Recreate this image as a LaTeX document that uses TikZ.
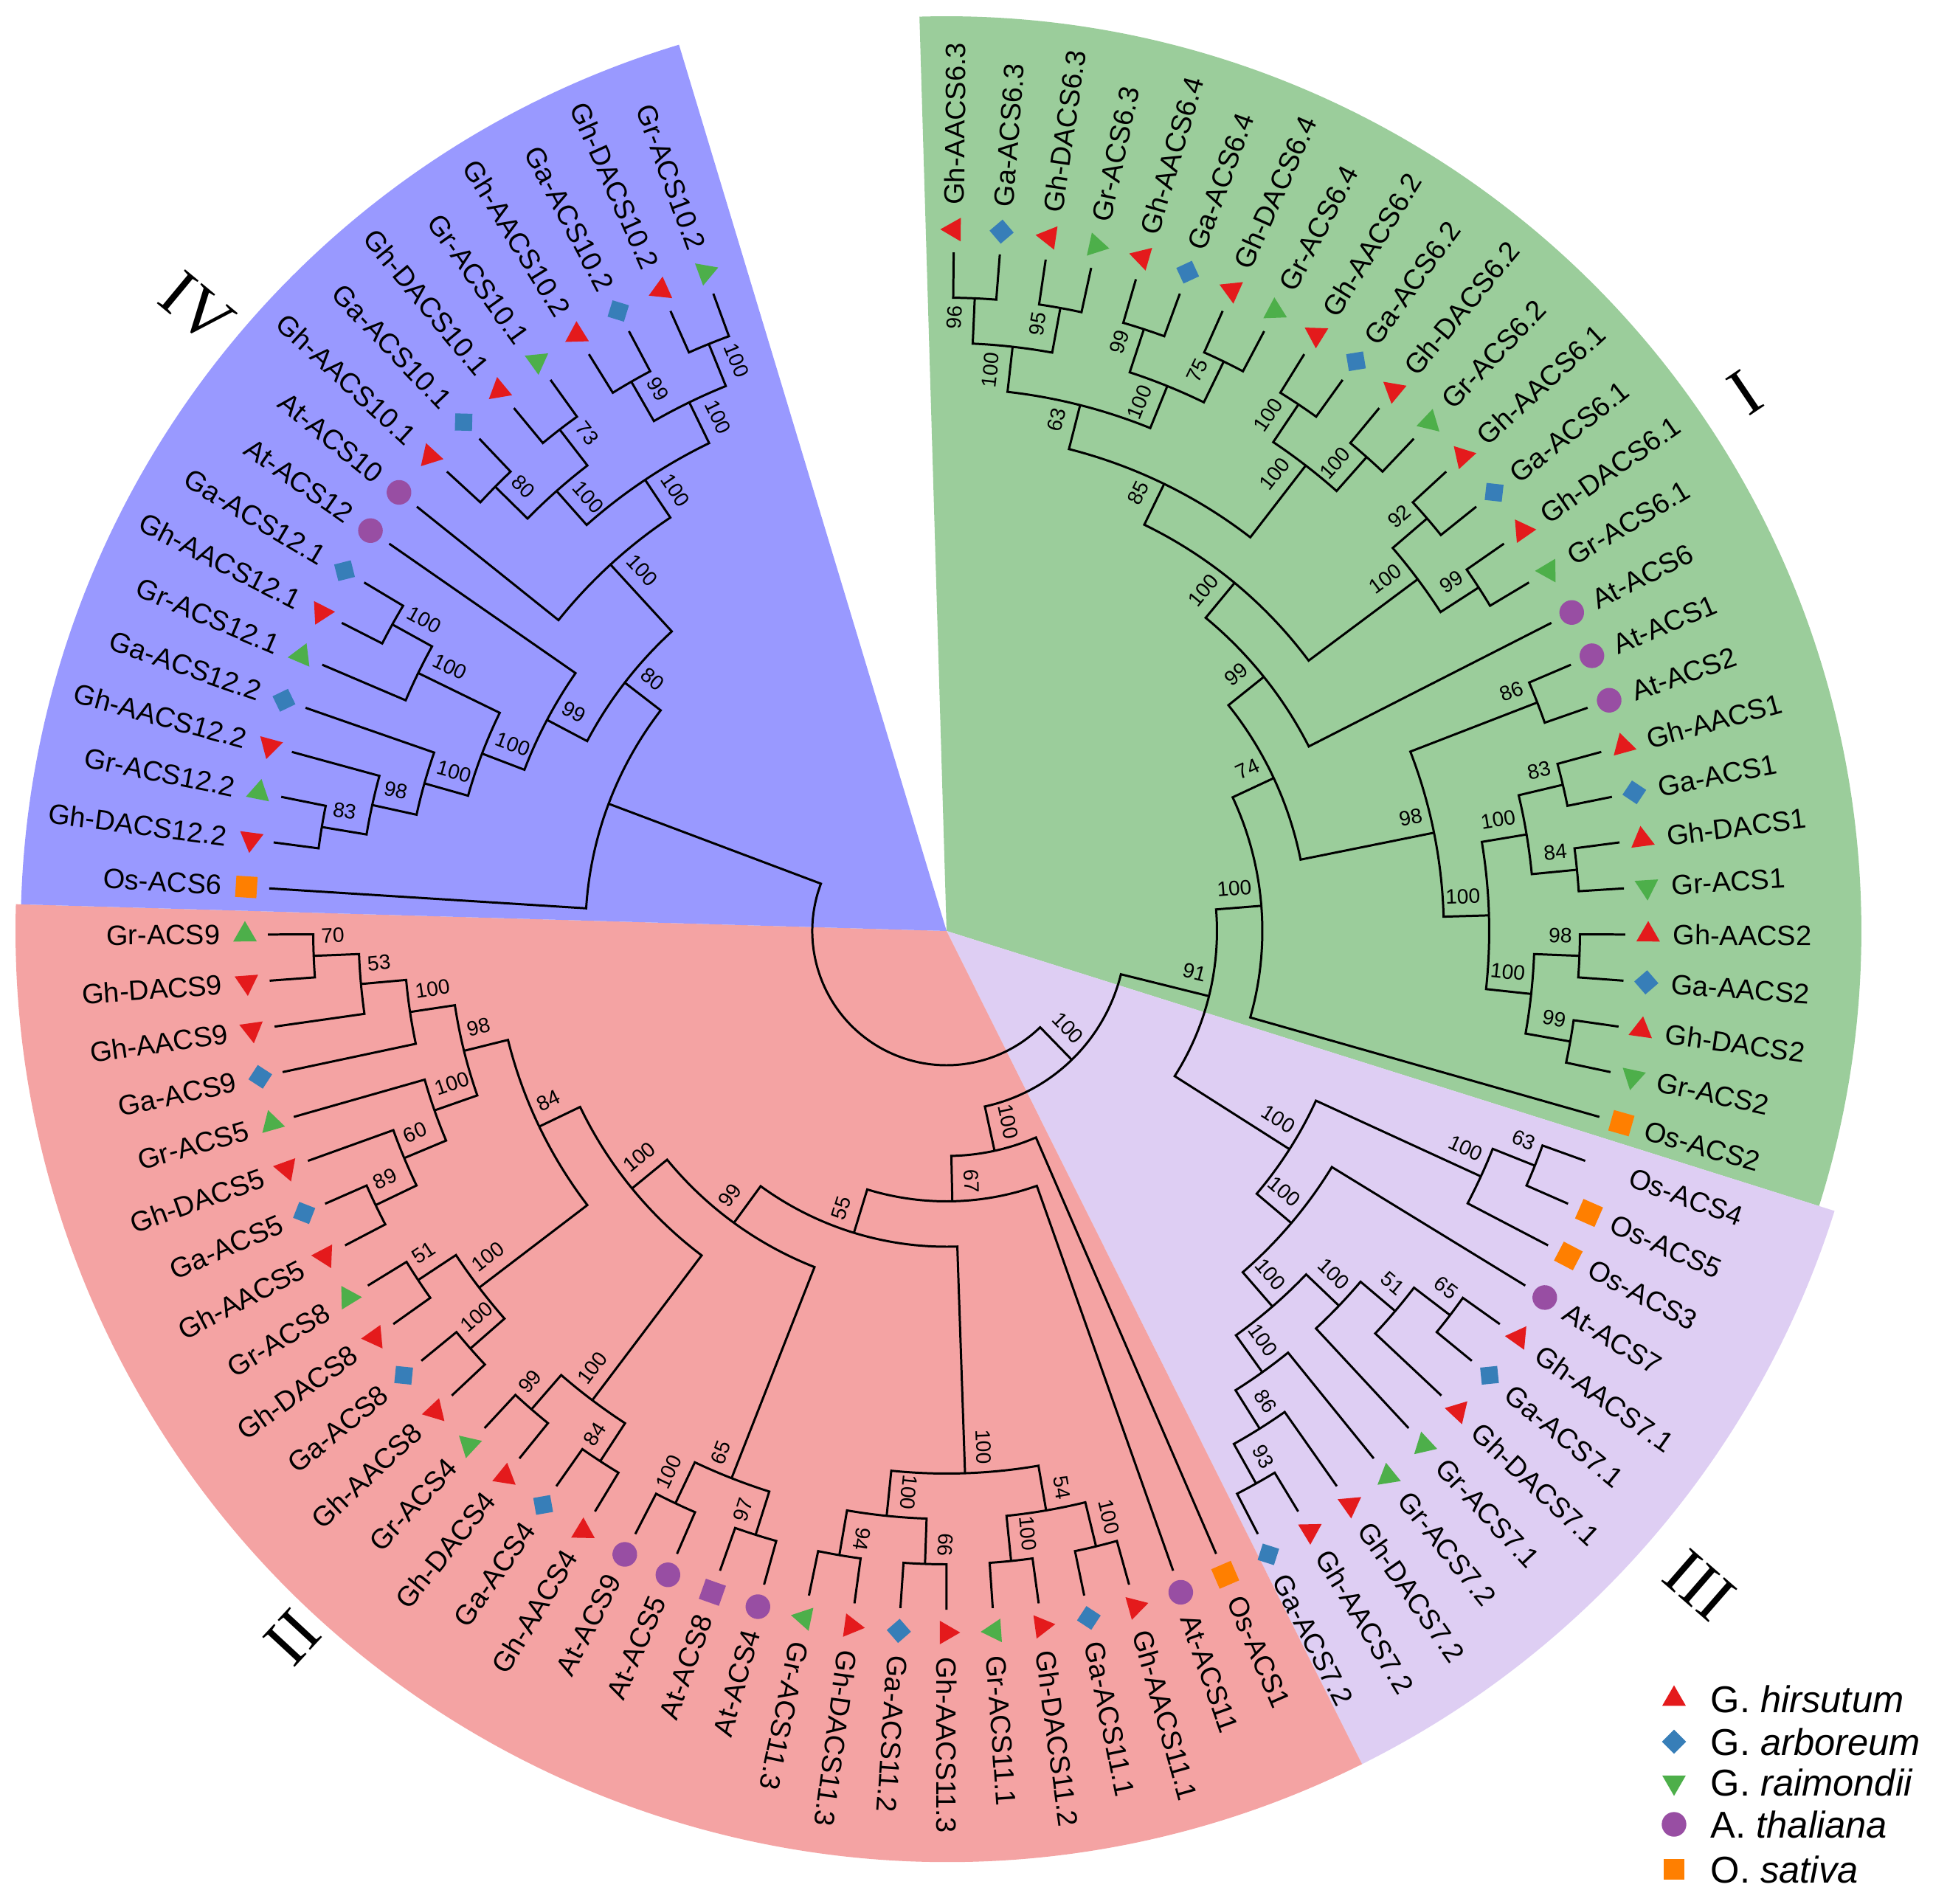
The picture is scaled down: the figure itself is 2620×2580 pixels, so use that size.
\documentclass[tikz,border=0pt]{standalone}
\usepackage{fontspec}
\setmainfont{Liberation Sans}
\newfontfamily\romfont{Liberation Serif}
\usepackage{tikz}
\usetikzlibrary{shapes.geometric}

\definecolor{hirC}{RGB}{228,26,28}
\definecolor{arbC}{RGB}{55,126,184}
\definecolor{raiC}{RGB}{77,175,74}
\definecolor{thaC}{RGB}{152,78,163}
\definecolor{satC}{RGB}{255,127,0}
\definecolor{bgI}{RGB}{155,205,155}
\definecolor{bgII}{RGB}{244,163,163}
\definecolor{bgIII}{RGB}{222,206,243}
\definecolor{bgIV}{RGB}{153,153,255}

% leaf: index, name, marker
\newcommand\leaf[3]{%
  \pgfmathsetmacro\angL{89.4-3.9*(#1-1)}%
  \expandafter\xdef\csname angg#1\endcsname{\angL}%
  \expandafter\xdef\csname hgtg#1\endcsname{0}%
  \coordinate (ng#1) at (\angL:920);%
  \node[#3, rotate=\angL] (m#1) at (\angL:951) {};%
  \pgfmathtruncatemacro\flipL{(\angL<-104) ? 1 : 0}%
  \ifnum\flipL=1
    \node[leaflbl, rotate=\angL+180, anchor=east] (l#1) at (\angL:984) {#2};%
  \else
    \node[leaflbl, rotate=\angL, anchor=west] (l#1) at (\angL:984) {#2};%
  \fi}

% clade: key, child, child, support
\newcommand\clade[4]{%
  \pgfmathsetmacro\angA{\csname ang#2\endcsname}%
  \pgfmathsetmacro\angB{\csname ang#3\endcsname}%
  \pgfmathsetmacro\angM{(\angA+\angB)/2}%
  \pgfmathtruncatemacro\htN{max(\csname hgt#2\endcsname,\csname hgt#3\endcsname)+1}%
  \pgfmathsetmacro\radN{920-61.5*\htN}%
  \expandafter\xdef\csname ang#1\endcsname{\angM}%
  \expandafter\xdef\csname hgt#1\endcsname{\htN}%
  \coordinate (n#1) at (\angM:\radN);%
  \draw[branch] (n#2) -- (\angA:\radN) arc[start angle=\angA, end angle=\angB, radius=\radN] -- (n#3);%
  \if\relax\detokenize{#4}\relax\else
    \pgfmathtruncatemacro\flipN{(\angM<-104) ? 1 : 0}%
    \ifnum\flipN=1
      \node[boot, rotate=\angM+180, anchor=south west] (b#1) at (n#1) {#4};%
    \else
      \node[boot, rotate=\angM, anchor=south east] (b#1) at (n#1) {#4};%
    \fi
  \fi}

\begin{document}
\begin{tikzpicture}[x=0.01cm, y=0.01cm,
  branch/.style={line width=0.85pt},
  leaflbl/.style={inner sep=0pt, font=\fontsize{10.8}{12}\selectfont},
  boot/.style={inner xsep=3pt, inner ysep=4.5pt, font=\fontsize{8}{9}\selectfont},
  roman/.style={inner sep=0pt, font=\romfont\fontsize{26}{28}\selectfont},
  legtxt/.style={inner sep=0pt, font=\fontsize{14.4}{16}\selectfont},
  mkhir/.style={regular polygon, regular polygon sides=3, fill=hirC, inner sep=0pt, minimum size=10.5pt},
  mkrai/.style={regular polygon, regular polygon sides=3, shape border rotate=180, fill=raiC, inner sep=0pt, minimum size=10.5pt},
  mkarb/.style={diamond, fill=arbC, inner sep=0pt, minimum width=9.5pt, minimum height=9.5pt},
  mktha/.style={circle, fill=thaC, inner sep=0pt, minimum size=9.5pt},
  mkthq/.style={rectangle, fill=thaC, inner sep=0pt, minimum size=8.2pt},
  mksat/.style={rectangle, fill=satC, inner sep=0pt, minimum size=8.2pt},
  mknone/.style={inner sep=0pt, minimum size=0pt}]
	\useasboundingbox (-1283,-1318) rectangle (1337,1262);
	\fill[white] (-1283,-1318) rectangle (1337,1262);
	% Clade Sectors %
	\fill[bgI] (0,0) -- (91.7:1240) arc[start angle=91.7, end angle=-17.5, radius=1240] -- cycle;
	\fill[bgIII] (0,0) -- (-17.5:1262) arc[start angle=-17.5, end angle=-63.5, radius=1262] -- cycle;
	\fill[bgII] (0,0) -- (-63.5:1262) arc[start angle=-63.5, end angle=-181.65, radius=1262] -- cycle;
	\fill[bgIV] (0,0) -- (-181.65:1255) arc[start angle=-181.65, end angle=-253.2, radius=1255] -- cycle;
	% Roman Numerals %
	\node[roman, rotate=34] (cI) at (34:1306) {I};
	\node[roman, rotate=47.2] (cII) at (-132.8:1305) {II};
	\node[roman, rotate=-41] (cIII) at (-41:1352) {III};
	\node[roman, rotate=-39.7] (cIV) at (140.3:1321) {IV};
	% Leaves %
	\leaf{1}{Gh-AACS6.3}{mkhir}
	\leaf{2}{Ga-ACS6.3}{mkarb}
	\leaf{3}{Gh-DACS6.3}{mkhir}
	\leaf{4}{Gr-ACS6.3}{mkrai}
	\leaf{5}{Gh-AACS6.4}{mkhir}
	\leaf{6}{Ga-ACS6.4}{mkarb}
	\leaf{7}{Gh-DACS6.4}{mkhir}
	\leaf{8}{Gr-ACS6.4}{mkrai}
	\leaf{9}{Gh-AACS6.2}{mkhir}
	\leaf{10}{Ga-ACS6.2}{mkarb}
	\leaf{11}{Gh-DACS6.2}{mkhir}
	\leaf{12}{Gr-ACS6.2}{mkrai}
	\leaf{13}{Gh-AACS6.1}{mkhir}
	\leaf{14}{Ga-ACS6.1}{mkarb}
	\leaf{15}{Gh-DACS6.1}{mkhir}
	\leaf{16}{Gr-ACS6.1}{mkrai}
	\leaf{17}{At-ACS6}{mktha}
	\leaf{18}{At-ACS1}{mktha}
	\leaf{19}{At-ACS2}{mktha}
	\leaf{20}{Gh-AACS1}{mkhir}
	\leaf{21}{Ga-ACS1}{mkarb}
	\leaf{22}{Gh-DACS1}{mkhir}
	\leaf{23}{Gr-ACS1}{mkrai}
	\leaf{24}{Gh-AACS2}{mkhir}
	\leaf{25}{Ga-AACS2}{mkarb}
	\leaf{26}{Gh-DACS2}{mkhir}
	\leaf{27}{Gr-ACS2}{mkrai}
	\leaf{28}{Os-ACS2}{mksat}
	\leaf{29}{Os-ACS4}{mknone}
	\leaf{30}{Os-ACS5}{mksat}
	\leaf{31}{Os-ACS3}{mksat}
	\leaf{32}{At-ACS7}{mktha}
	\leaf{33}{Gh-AACS7.1}{mkhir}
	\leaf{34}{Ga-ACS7.1}{mkarb}
	\leaf{35}{Gh-DACS7.1}{mkhir}
	\leaf{36}{Gr-ACS7.1}{mkrai}
	\leaf{37}{Gr-ACS7.2}{mkrai}
	\leaf{38}{Gh-DACS7.2}{mkhir}
	\leaf{39}{Gh-AACS7.2}{mkhir}
	\leaf{40}{Ga-ACS7.2}{mkarb}
	\leaf{41}{Os-ACS1}{mksat}
	\leaf{42}{At-ACS11}{mktha}
	\leaf{43}{Gh-AACS11.1}{mkhir}
	\leaf{44}{Ga-ACS11.1}{mkarb}
	\leaf{45}{Gh-DACS11.2}{mkhir}
	\leaf{46}{Gr-ACS11.1}{mkrai}
	\leaf{47}{Gh-AACS11.3}{mkhir}
	\leaf{48}{Ga-ACS11.2}{mkarb}
	\leaf{49}{Gh-DACS11.3}{mkhir}
	\leaf{50}{Gr-ACS11.3}{mkrai}
	\leaf{51}{At-ACS4}{mktha}
	\leaf{52}{At-ACS8}{mkthq}
	\leaf{53}{At-ACS5}{mktha}
	\leaf{54}{At-ACS9}{mktha}
	\leaf{55}{Gh-AACS4}{mkhir}
	\leaf{56}{Ga-ACS4}{mkarb}
	\leaf{57}{Gh-DACS4}{mkhir}
	\leaf{58}{Gr-ACS4}{mkrai}
	\leaf{59}{Gh-AACS8}{mkhir}
	\leaf{60}{Ga-ACS8}{mkarb}
	\leaf{61}{Gh-DACS8}{mkhir}
	\leaf{62}{Gr-ACS8}{mkrai}
	\leaf{63}{Gh-AACS5}{mkhir}
	\leaf{64}{Ga-ACS5}{mkarb}
	\leaf{65}{Gh-DACS5}{mkhir}
	\leaf{66}{Gr-ACS5}{mkrai}
	\leaf{67}{Ga-ACS9}{mkarb}
	\leaf{68}{Gh-AACS9}{mkhir}
	\leaf{69}{Gh-DACS9}{mkhir}
	\leaf{70}{Gr-ACS9}{mkrai}
	\leaf{71}{Os-ACS6}{mksat}
	\leaf{72}{Gh-DACS12.2}{mkhir}
	\leaf{73}{Gr-ACS12.2}{mkrai}
	\leaf{74}{Gh-AACS12.2}{mkhir}
	\leaf{75}{Ga-ACS12.2}{mkarb}
	\leaf{76}{Gr-ACS12.1}{mkrai}
	\leaf{77}{Gh-AACS12.1}{mkhir}
	\leaf{78}{Ga-ACS12.1}{mkarb}
	\leaf{79}{At-ACS12}{mktha}
	\leaf{80}{At-ACS10}{mktha}
	\leaf{81}{Gh-AACS10.1}{mkhir}
	\leaf{82}{Ga-ACS10.1}{mkarb}
	\leaf{83}{Gh-DACS10.1}{mkhir}
	\leaf{84}{Gr-ACS10.1}{mkrai}
	\leaf{85}{Gh-AACS10.2}{mkhir}
	\leaf{86}{Ga-ACS10.2}{mkarb}
	\leaf{87}{Gh-DACS10.2}{mkhir}
	\leaf{88}{Gr-ACS10.2}{mkrai}
	% Clade I %
	\clade{p63a}{g1}{g2}{96}
	\clade{p63b}{g3}{g4}{95}
	\clade{G63}{p63a}{p63b}{100}
	\clade{p64a}{g5}{g6}{99}
	\clade{p64b}{g7}{g8}{75}
	\clade{G64}{p64a}{p64b}{100}
	\clade{GA}{G63}{G64}{63}
	\clade{p62a}{g9}{g10}{100}
	\clade{p62b}{g11}{g12}{100}
	\clade{G62}{p62a}{p62b}{100}
	\clade{GB}{GA}{G62}{85}
	\clade{p61a}{g13}{g14}{92}
	\clade{p61b}{g15}{g16}{99}
	\clade{G61}{p61a}{p61b}{100}
	\clade{GC}{GB}{G61}{100}
	\clade{GD}{GC}{g17}{99}
	\clade{GAt}{g18}{g19}{86}
	\clade{p1a}{g20}{g21}{83}
	\clade{p1b}{g22}{g23}{84}
	\clade{GE1}{p1a}{p1b}{100}
	\clade{p2a}{g24}{g25}{98}
	\clade{p2b}{g26}{g27}{99}
	\clade{GE2}{p2a}{p2b}{100}
	\clade{GE}{GE1}{GE2}{100}
	\clade{GF}{GAt}{GE}{98}
	\clade{GG}{GD}{GF}{74}
	\clade{Groot}{GG}{g28}{100}
	% Clade III %
	\clade{P63}{g29}{g30}{63}
	\clade{POs}{P63}{g31}{100}
	\clade{P65}{g33}{g34}{65}
	\clade{P51}{P65}{g35}{51}
	\clade{P71}{P51}{g36}{100}
	\clade{P93}{g39}{g40}{93}
	\clade{P86}{g38}{P93}{86}
	\clade{P72}{g37}{P86}{100}
	\clade{P7}{P71}{P72}{100}
	\clade{PAt}{g32}{P7}{100}
	\clade{Proot}{POs}{PAt}{100}
	\clade{N91}{Groot}{Proot}{91}
	% Clade II %
	\clade{r11a1}{g43}{g44}{100}
	\clade{r11a2}{g45}{g46}{100}
	\clade{R11a}{r11a1}{r11a2}{54}
	\clade{r11b1}{g47}{g48}{66}
	\clade{r11b2}{g49}{g50}{94}
	\clade{R11b}{r11b1}{r11b2}{100}
	\clade{R11}{R11a}{R11b}{100}
	\clade{rAt1}{g51}{g52}{97}
	\clade{rAt2}{g53}{g54}{100}
	\clade{RAt}{rAt1}{rAt2}{65}
	\clade{r4a}{g55}{g56}{84}
	\clade{r4b}{g57}{g58}{99}
	\clade{R4}{r4a}{r4b}{100}
	\clade{r8a}{g59}{g60}{100}
	\clade{r8b}{g61}{g62}{51}
	\clade{R8}{r8a}{r8b}{100}
	\clade{r5a}{g63}{g64}{89}
	\clade{r5b}{g65}{r5a}{60}
	\clade{R5}{g66}{r5b}{100}
	\clade{r9a}{g69}{g70}{70}
	\clade{r9b}{g68}{r9a}{53}
	\clade{R9}{g67}{r9b}{100}
	\clade{R95}{R5}{R9}{98}
	\clade{R958}{R8}{R95}{84}
	\clade{Rc}{R4}{R958}{100}
	\clade{R99}{RAt}{Rc}{99}
	\clade{R55}{R11}{R99}{55}
	\clade{R67}{g42}{R55}{67}
	\clade{Rroot}{g41}{R67}{100}
	\clade{X}{N91}{Rroot}{100}
	% Clade IV %
	\clade{b102a}{g85}{g86}{99}
	\clade{b102b}{g87}{g88}{100}
	\clade{B102}{b102a}{b102b}{100}
	\clade{b101a}{g81}{g82}{80}
	\clade{b101b}{g83}{g84}{73}
	\clade{B101}{b101a}{b101b}{100}
	\clade{B10}{B101}{B102}{100}
	\clade{BAt10}{g80}{B10}{100}
	\clade{b121a}{g77}{g78}{100}
	\clade{B121}{g76}{b121a}{100}
	\clade{b122a}{g72}{g73}{83}
	\clade{b122b}{b122a}{g74}{98}
	\clade{B122}{b122b}{g75}{100}
	\clade{B12}{B122}{B121}{100}
	\clade{BAt12}{B12}{g79}{99}
	\clade{B80}{BAt12}{BAt10}{80}
	\clade{Broot}{g71}{B80}{}
	% Root %
	\clade{Root}{Broot}{X}{}
	% Legend %
	\node[mkhir] (k1) at (986,-1041) {};
	\node[legtxt, anchor=west] (kt1) at (1035,-1041) {G. \textit{hirsutum}};
	\node[mkarb] (k2) at (986,-1099) {};
	\node[legtxt, anchor=west] (kt2) at (1035,-1099) {G. \textit{arboreum}};
	\node[mkrai] (k3) at (986,-1154) {};
	\node[legtxt, anchor=west] (kt3) at (1035,-1154) {G. \textit{raimondii}};
	\node[mktha] (k4) at (986,-1211) {};
	\node[legtxt, anchor=west] (kt4) at (1035,-1211) {A. \textit{thaliana}};
	\node[mksat] (k5) at (986,-1272) {};
	\node[legtxt, anchor=west] (kt5) at (1035,-1272) {O. \textit{sativa}};
\end{tikzpicture}
\end{document}
